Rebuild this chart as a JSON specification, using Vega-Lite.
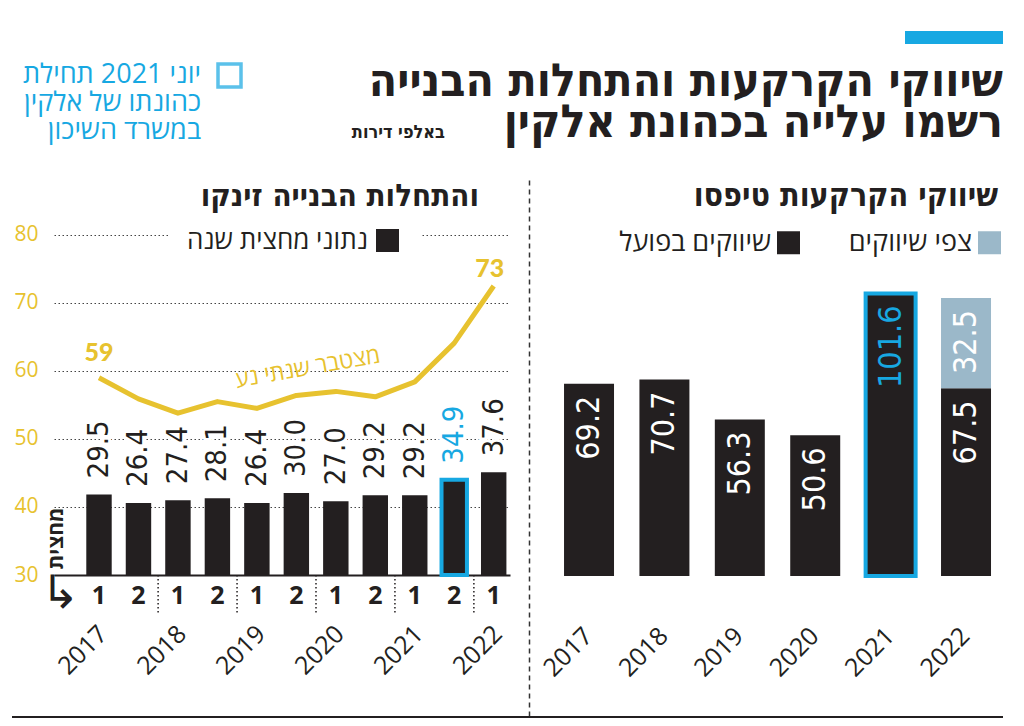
{
  "$schema": "https://vega.github.io/schema/vega-lite/v6.json",
  "background": "white",
  "padding": {"left": 12, "top": 31, "right": 21, "bottom": 6},
  "spacing": 0,
  "resolve": {"scale": {"fill": "independent", "stroke": "independent"}},
  "datasets": {
    "halves": [
      {"h": "2017-1", "yr": "2017", "v": 29.5, "cum": 59.0},
      {"h": "2017-2", "yr": "2017", "v": 26.4, "cum": 55.9},
      {"h": "2018-1", "yr": "2018", "v": 27.4, "cum": 53.8},
      {"h": "2018-2", "yr": "2018", "v": 28.1, "cum": 55.5},
      {"h": "2019-1", "yr": "2019", "v": 26.4, "cum": 54.5},
      {"h": "2019-2", "yr": "2019", "v": 30.0, "cum": 56.4},
      {"h": "2020-1", "yr": "2020", "v": 27.0, "cum": 57.0},
      {"h": "2020-2", "yr": "2020", "v": 29.2, "cum": 56.2},
      {"h": "2021-1", "yr": "2021", "v": 29.2, "cum": 58.4},
      {"h": "2021-2", "yr": "2021", "v": 34.9, "cum": 64.1},
      {"h": "2022-1", "yr": "2022", "v": 37.6, "cum": 72.5}
    ],
    "market": [
      {"yr": "2017", "type": "שיווקים בפועל", "ord": 1, "v": 69.2},
      {"yr": "2018", "type": "שיווקים בפועל", "ord": 1, "v": 70.7},
      {"yr": "2019", "type": "שיווקים בפועל", "ord": 1, "v": 56.3},
      {"yr": "2020", "type": "שיווקים בפועל", "ord": 1, "v": 50.6},
      {"yr": "2021", "type": "שיווקים בפועל", "ord": 1, "v": 101.6},
      {"yr": "2022", "type": "שיווקים בפועל", "ord": 1, "v": 67.5},
      {"yr": "2022", "type": "צפי שיווקים", "ord": 2, "v": 32.5}
    ]
  },
  "title": {
    "text": ["שיווקי הקרקעות והתחלות הבנייה", "רשמו עלייה בכהונת אלקין"],
    "anchor": "end",
    "orient": "top",
    "offset": -116,
    "font": "DejaVu Sans Condensed",
    "fontSize": 46,
    "fontWeight": "bold",
    "color": "#231f20",
    "lineHeight": 41
  },
  "config": {
    "view": {"stroke": null},
    "concat": {"spacing": 0},
    "font": "Open Sans",
    "axis": {"labelFont": "Open Sans", "titleFont": "Open Sans"},
    "legend": {"labelFont": "Open Sans", "titleFont": "Open Sans", "titleLimit": 500, "labelLimit": 400}
  },
  "vconcat": [
    {
      "spacing": 0,
      "resolve": {"scale": {"fill": "independent", "stroke": "independent"}},
      "hconcat": [
        {
          "width": 893,
          "height": 147,
          "data": {"values": []},
          "mark": {"type": "point", "shape": "square"},
          "encoding": {
            "stroke": {
              "datum": "k",
              "type": "nominal",
              "scale": {"domain": ["k"], "range": ["#17a8e2"]},
              "legend": {
                "orient": "none",
                "legendX": 11,
                "legendY": 31,
                "title": ["יוני 2021 תחילת", "כהונתו של אלקין", "במשרד השיכון"],
                "titleOrient": "left",
                "titleAnchor": "start",
                "titleBaseline": "top",
                "titleAlign": "right",
                "titleColor": "#17a8e2",
                "titleFontSize": 27,
                "titleFontWeight": "normal",
                "titleLineHeight": 28,
                "titlePadding": -164,
                "labelExpr": "''",
                "symbolType": "square",
                "symbolSize": 529,
                "symbolStrokeWidth": 3.5,
                "symbolFillColor": "transparent"
              }
            }
          },
          "title": {
            "text": "באלפי דירות",
            "anchor": "end",
            "frame": "group",
            "dx": -460,
            "offset": -111,
            "font": "DejaVu Sans Condensed",
            "fontSize": 18,
            "fontWeight": "bold",
            "color": "#231f20"
          }
        },
        {
          "width": 98,
          "height": 13,
          "view": {"fill": "#17a8e2", "stroke": null},
          "data": {"values": []},
          "mark": "point"
        }
      ]
    },
    {
      "spacing": 0,
      "resolve": {"scale": {"fill": "independent", "stroke": "independent"}},
      "hconcat": [
        {
          "width": 1,
          "height": 1,
          "data": {"values": []},
          "mark": "point"
        },
        {
          "width": 456,
          "height": 397,
          "title": {
            "text": "והתחלות הבנייה זינקו",
            "anchor": "end",
            "frame": "group",
            "dx": -31,
            "offset": -35,
            "font": "DejaVu Sans Condensed",
            "fontSize": 31,
            "fontWeight": "bold",
            "color": "#231f20"
          },
          "data": {"name": "halves"},
          "layer": [
            {
              "layer": [
                {
                  "mark": {"type": "bar", "strokeWidth": 4},
                  "encoding": {
                    "x": {
                      "field": "h",
                      "type": "nominal",
                      "scale": {"paddingInner": 0.356, "paddingOuter": 0.4545, "align": 0.9},
                      "axis": {
                        "orient": "bottom",
                        "domainColor": "#231f20",
                        "domainWidth": 2,
                        "labelExpr": "substring(datum.value, 5)",
                        "labelFontSize": 25,
                        "labelFontWeight": "bold",
                        "labelColor": "#231f20",
                        "labelPadding": 8,
                        "labelAngle": 0,
                        "ticks": false,
                        "grid": false,
                        "title": "מחצית",
                        "titleAngle": -90,
                        "titleX": 2,
                        "titleY": -37,
                        "titleAlign": "center",
                        "titleBaseline": "middle",
                        "titleFontSize": 21,
                        "titleFontWeight": "bold",
                        "titleColor": "#231f20"
                      }
                    },
                    "y": {"field": "v", "type": "quantitative", "scale": {"domain": [0, 145.4], "nice": false}, "axis": null},
                    "fill": {
                      "datum": "נתוני מחצית שנה",
                      "type": "nominal",
                      "scale": {"range": ["#231f20"]},
                      "legend": {
                        "orient": "none",
                        "legendX": 115,
                        "legendY": 33,
                        "title": "נתוני מחצית שנה",
                        "titleOrient": "left",
                        "titleFontSize": 26,
                        "titleFontWeight": "normal",
                        "titleColor": "#231f20",
                        "titlePadding": 8,
                        "labelExpr": "''",
                        "symbolType": "square",
                        "symbolSize": 529,
                        "symbolStrokeWidth": 0,
                        "fillColor": "white",
                        "padding": 18
                      }
                    },
                    "stroke": {"condition": {"test": "datum.h == '2021-2'", "value": "#17a8e2"}, "value": null}
                  }
                },
                {
                  "transform": [{"filter": "indexof(datum.h, '-1') > 0 && datum.h != '2017-1'"}],
                  "mark": {"type": "rule", "strokeDash": [1.5, 2.5], "strokeWidth": 1.5, "color": "#231f20"},
                  "encoding": {
                    "x": {"field": "h", "type": "nominal", "bandPosition": -0.28},
                    "y": {"datum": 0, "type": "quantitative"},
                    "y2": {"datum": -14.65}
                  }
                },
                {
                  "transform": [{"filter": "indexof(datum.h, '-1') > 0"}],
                  "mark": {"type": "text", "angle": -45, "align": "right", "baseline": "top", "fontSize": 25, "color": "#231f20", "dx": -3, "dy": -3},
                  "encoding": {
                    "x": {"field": "h", "type": "nominal"},
                    "y": {"datum": -17, "type": "quantitative"},
                    "text": {"field": "yr"}
                  }
                },
                {
                  "transform": [{"filter": "datum.h == '2017-1'"}],
                  "mark": {"type": "text", "align": "center", "baseline": "middle", "fontSize": 46, "font": "DejaVu Sans", "color": "#231f20", "dx": -39},
                  "encoding": {
                    "x": {"field": "h", "type": "nominal"},
                    "y": {"datum": -7, "type": "quantitative"},
                    "text": {"value": "↳"}
                  }
                },
                {
                  "mark": {"type": "text", "angle": -90, "align": "left", "baseline": "middle", "dx": 16, "fontSize": 29, "font": "Liberation Sans Narrow, DejaVu Sans Condensed", "fill": "white", "stroke": "white", "strokeWidth": 6},
                  "encoding": {
                    "x": {"field": "h", "type": "nominal"},
                    "y": {"field": "v", "type": "quantitative"},
                    "text": {"field": "v", "format": ".1f"}
                  }
                },
                {
                  "mark": {"type": "text", "angle": -90, "align": "left", "baseline": "middle", "dx": 16, "fontSize": 29, "font": "Liberation Sans Narrow, DejaVu Sans Condensed"},
                  "encoding": {
                    "x": {"field": "h", "type": "nominal"},
                    "y": {"field": "v", "type": "quantitative"},
                    "text": {"field": "v", "format": ".1f"},
                    "color": {"condition": {"test": "datum.h == '2021-2'", "value": "#17a8e2"}, "value": "#231f20"}
                  }
                }
              ]
            },
            {
              "layer": [
                {
                  "mark": {"type": "line", "color": "#e7c22f", "strokeWidth": 5, "strokeJoin": "round"},
                  "encoding": {
                    "x": {"field": "h", "type": "nominal"},
                    "y": {
                      "field": "cum",
                      "type": "quantitative",
                      "scale": {"domain": [30, 88.38], "nice": false, "zero": false},
                      "axis": {
                        "orient": "left",
                        "values": [30, 40, 50, 60, 70, 80],
                        "domain": false,
                        "ticks": false,
                        "labelColor": "#e7c22f",
                        "labelFontSize": 21,
                        "labelPadding": 16,
                        "grid": true,
                        "gridColor": "#444444",
                        "gridDash": [1.5, 2.5],
                        "gridWidth": 1,
                        "title": null
                      }
                    }
                  }
                },
                {
                  "transform": [{"filter": "datum.h == '2017-1'"}],
                  "mark": {"type": "text", "font": "Lato", "fontWeight": 900, "fontSize": 25, "color": "#e7c22f", "baseline": "bottom", "dy": -12},
                  "encoding": {
                    "x": {"field": "h", "type": "nominal"},
                    "y": {"field": "cum", "type": "quantitative"},
                    "text": {"field": "cum", "format": ".0f"}
                  }
                },
                {
                  "transform": [{"filter": "datum.h == '2022-1'"}],
                  "mark": {"type": "text", "font": "Lato", "fontWeight": 900, "fontSize": 25, "color": "#e7c22f", "baseline": "bottom", "dy": -4, "dx": -4},
                  "encoding": {
                    "x": {"field": "h", "type": "nominal"},
                    "y": {"field": "cum", "type": "quantitative"},
                    "text": {"field": "cum", "format": ".0f"}
                  }
                },
                {
                  "transform": [{"filter": "datum.h == '2019-2'"}],
                  "mark": {"type": "text", "fontSize": 23, "color": "#e7c22f", "angle": -10, "align": "center", "baseline": "middle", "dx": 16, "dy": -25},
                  "encoding": {
                    "x": {"field": "h", "type": "nominal"},
                    "y": {"field": "cum", "type": "quantitative"},
                    "text": {"value": "מצטבר שנתי נע"}
                  }
                }
              ]
            }
          ],
          "resolve": {"scale": {"y": "independent"}}
        },
        {
          "width": 491,
          "height": 538,
          "title": {
            "text": "שיווקי הקרקעות טיפסו",
            "anchor": "end",
            "frame": "group",
            "dx": -3,
            "offset": -35,
            "font": "DejaVu Sans Condensed",
            "fontSize": 32,
            "fontWeight": "bold",
            "color": "#231f20"
          },
          "data": {"name": "market"},
          "layer": [
            {
              "mark": {"type": "bar", "strokeWidth": 4},
              "encoding": {
                "x": {
                  "field": "yr",
                  "type": "nominal",
                  "scale": {"paddingInner": 0.337, "paddingOuter": 0.4245, "align": 0.844},
                  "axis": {
                    "orient": "bottom",
                    "offset": -93,
                    "labelAngle": -45,
                    "labelAlign": "right",
                    "labelBaseline": "top",
                    "labelFontSize": 25,
                    "labelColor": "#231f20",
                    "labelPadding": 0,
                    "labelOffset": -9,
                    "domain": false,
                    "ticks": false,
                    "grid": false,
                    "title": null
                  }
                },
                "y": {
                  "field": "v",
                  "type": "quantitative",
                  "stack": "zero",
                  "scale": {"domain": [-50.36, 143.17], "nice": false, "zero": false},
                  "axis": {
                    "orient": "left",
                    "offset": -19,
                    "domainDash": [5, 4],
                    "domainColor": "#333333",
                    "domainWidth": 1.5,
                    "labels": false,
                    "ticks": false,
                    "grid": false,
                    "title": null
                  }
                },
                "fill": {
                  "field": "type",
                  "type": "nominal",
                  "scale": {"domain": ["שיווקים בפועל", "צפי שיווקים"], "range": ["#231f20", "#9bb8c9"]},
                  "legend": {
                    "orient": "none",
                    "legendX": 265,
                    "legendY": 51,
                    "direction": "horizontal",
                    "title": null,
                    "labelAlign": "right",
                    "labelOffset": -31,
                    "labelFontSize": 27,
                    "labelColor": "#231f20",
                    "symbolType": "square",
                    "symbolSize": 529,
                    "symbolStrokeWidth": 0,
                    "columnPadding": 48
                  }
                },
                "order": {"field": "ord", "type": "quantitative"},
                "stroke": {"condition": {"test": "datum.yr == '2021'", "value": "#17a8e2"}, "value": null}
              }
            },
            {
              "mark": {"type": "text", "angle": -90, "align": "right", "baseline": "middle", "dx": -12, "fontSize": 32, "font": "Liberation Sans Narrow, DejaVu Sans Condensed"},
              "encoding": {
                "x": {"field": "yr", "type": "nominal"},
                "y": {"field": "v", "type": "quantitative", "stack": "zero"},
                "detail": {"field": "type"},
                "order": {"field": "ord", "type": "quantitative"},
                "text": {"field": "v", "format": ".1f"},
                "color": {"condition": {"test": "datum.yr == '2021'", "value": "#17a8e2"}, "value": "white"}
              }
            }
          ]
        }
      ]
    },
    {
      "width": 991,
      "height": 2,
      "view": {"fill": "#231f20", "stroke": null},
      "data": {"values": []},
      "mark": "point"
    }
  ]
}
